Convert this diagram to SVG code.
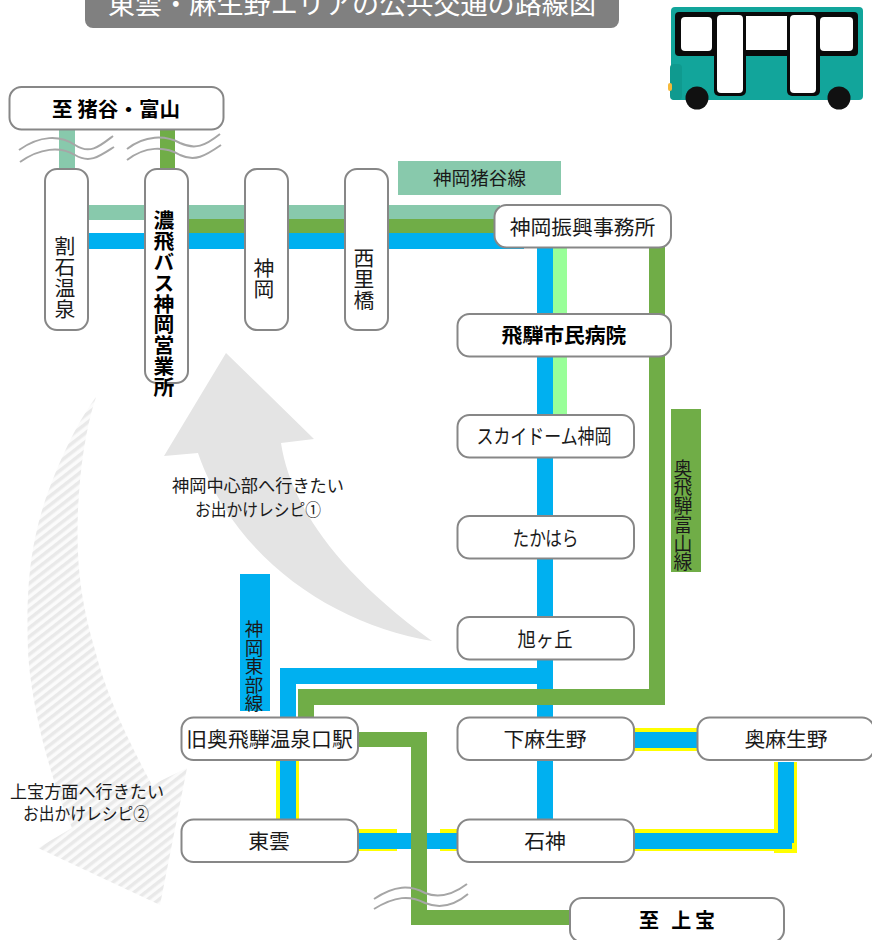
<svg xmlns="http://www.w3.org/2000/svg" width="872" height="940" viewBox="0 0 872 940">
<style>
text{font-family:"Noto Sans CJK JP","Noto Sans",sans-serif;fill:#1a1a1a;font-size:20.8px;text-anchor:middle}
.n{fill:#fff;stroke:#878787;stroke-width:2}
.b{font-weight:700;fill:#000}
.v{writing-mode:vertical-rl;text-anchor:start;dominant-baseline:central}
.s{font-size:17.6px}
.w{fill:none;stroke:#a6a6a6;stroke-width:2}
.lb{fill:#00B0F0}.lg{fill:#70AD47}.lm{fill:#88C9AC}.ly{fill:#FFFF00}.lp{fill:#99FF99}
</style>
<defs>
<pattern id="hatch" width="7" height="7" patternUnits="userSpaceOnUse" patternTransform="rotate(-38)">
<rect width="7" height="7" fill="#fbfbfb"/><rect width="7" height="3.5" fill="#e9e9e9"/>
</pattern>
</defs>
<g id="title">
<path d="M85 -5H619V20a8 8 0 0 1-8 8H93a8 8 0 0 1-8-8Z" fill="#808080"/>
<text x="352" y="14" style="font-size:27px;fill:#fff" textLength="488" lengthAdjust="spacingAndGlyphs">東雲・麻生野エリアの公共交通の路線図</text>
</g>
<g id="bus">
<rect x="671" y="7" width="192" height="93" rx="4" fill="#12A59B"/>
<rect x="670" y="64" width="12" height="36" rx="4" fill="#0F9A8F"/>
<rect x="668" y="83" width="4" height="8" rx="2" fill="#F5B93A"/>
<rect x="675" y="12" width="183" height="44" rx="4" fill="#0a0a0a"/>
<rect x="714" y="12" width="32" height="84" rx="5" fill="#0a0a0a"/>
<rect x="787" y="12" width="33" height="84" rx="5" fill="#0a0a0a"/>
<rect x="681" y="17" width="31" height="34" rx="4" fill="#fff"/>
<rect x="746" y="16" width="41" height="34" fill="#fff"/>
<rect x="820" y="17" width="33" height="34" rx="4" fill="#fff"/>
<rect x="717" y="15" width="26" height="78" rx="4" fill="#fff"/>
<rect x="790" y="15" width="26" height="78" rx="4" fill="#fff"/>
<circle cx="697" cy="98" r="11.5" fill="#111"/>
<circle cx="839" cy="98" r="11.5" fill="#111"/>
</g>
<g id="arrows">
<path d="M226 353L314 439L281 443C288 490 320 560 432 641C335 625 235 560 198 453L164 456Z" fill="#e4e4e4"/>
<path d="M96 397C75 425 55 470 43 507C30 550 26 590 28 650C30 700 50 780 72 828L38 848L160 905L187 768L152 785C125 735 105 690 95 650C80 600 76 560 78 510C80 470 85 430 96 397Z" fill="url(#hatch)"/>
</g>
<g id="connectors">
<rect class="lm" x="59" y="129" width="16" height="41"/>
<rect class="lg" x="160" y="129" width="15" height="41"/>
<rect class="lm" x="88" y="205" width="412" height="15"/>
<rect class="lg" x="188" y="219" width="312" height="14"/>
<rect class="lb" x="88" y="233" width="436" height="16"/>
<rect class="lb" x="537" y="247" width="16" height="572"/>
<rect class="lp" x="553" y="247" width="14" height="168"/>
<path class="lb" d="M280 668H553V684H296V819H280Z"/>
<path class="ly" d="M276 760H280V819H276ZM296 760H299V819H296Z"/>
<path class="lg" d="M649 247H665V705H314V717H298V689H649Z"/>
<path class="ly" d="M358 829H397V851H358ZM440 829H457V851H440Z"/>
<rect class="lb" x="358" y="833" width="99" height="16"/>
<rect class="ly" x="634" y="728" width="63" height="23"/>
<rect class="lb" x="634" y="732" width="63" height="16"/>
<path class="ly" d="M634 829H774V762H797V853H774V851H634Z"/>
<path class="lb" d="M634 833H778V762H794V843H792V849H634Z"/>
<path class="lg" d="M358 732H427V910H570V925H411V747H358Z"/>
<rect class="lm" x="398" y="161" width="163" height="34"/>
<rect class="lg" x="671" y="409" width="30" height="163"/>
<rect class="lb" x="240" y="574" width="30" height="137"/>
<path class="w" d="M19 150C40 135 60 135 75 145C90 155 100 146 113 136M20 162C40 148 60 146 75 155C90 164 100 156 114 147"/>
<path class="w" d="M127 149C145 135 165 135 180 143C195 150 205 146 220 134M127 160C145 146 165 146 180 155C195 162 205 156 221 145"/>
<path class="w" d="M374 899C395 885 410 885 425 893C440 899 455 893 467 884M374 909C395 896 410 895 425 903C440 909 455 905 468 894"/>
</g>
<text x="479.500" y="185" style="font-size:18.6px">神岡猪谷線</text>
<text class="v" x="683" y="459" style="font-size:18.8px">奥飛騨富山線</text>
<text class="v" x="254" y="620" style="font-size:18.5px">神岡東部線</text>
<g id="n-inotani"><rect class="n" x="9.5" y="87" width="214" height="42.5" rx="12"/><text class="b" x="116" y="117" style="font-size:20px" textLength="128" lengthAdjust="spacingAndGlyphs">至  猪谷・富山</text></g>
<g id="n-warishi"><rect class="n" x="45" y="169" width="43" height="161" rx="12"/><text class="v" x="65" y="236">割石温泉</text></g>
<g id="n-nohi"><rect class="n" x="145" y="169" width="43" height="214" rx="12"/><text class="v b" x="164" y="210">濃飛バス神岡営業所</text></g>
<g id="n-kamioka"><rect class="n" x="245" y="169" width="43" height="161" rx="12"/><text class="v" x="264" y="258">神岡</text></g>
<g id="n-nishizato"><rect class="n" x="345" y="169" width="43" height="161" rx="12"/><text class="v" x="364" y="248">西里橋</text></g>
<g id="n-shinko"><rect class="n" x="494.500" y="205" width="176.500" height="42.500" rx="12"/><text x="582.500" y="235">神岡振興事務所</text></g>
<g id="n-byoin"><rect class="n" x="457.500" y="314" width="213.500" height="42.500" rx="12"/><text class="b" x="564" y="343">飛騨市民病院</text></g>
<g id="n-sky"><rect class="n" x="457.500" y="415" width="176.500" height="42.500" rx="12"/><text x="544" y="444" textLength="135" lengthAdjust="spacingAndGlyphs">スカイドーム神岡</text></g>
<g id="n-takahara"><rect class="n" x="457.500" y="516" width="176.500" height="42.500" rx="12"/><text x="545.500" y="546" textLength="66" lengthAdjust="spacingAndGlyphs">たかはら</text></g>
<g id="n-asahi"><rect class="n" x="457.500" y="617" width="176.500" height="42.500" rx="12"/><text x="545" y="647" textLength="55" lengthAdjust="spacingAndGlyphs">旭ヶ丘</text></g>
<g id="n-shimo"><rect class="n" x="457.500" y="717.500" width="176.500" height="42.500" rx="12"/><text x="545" y="747">下麻生野</text></g>
<g id="n-oku"><rect class="n" x="697.500" y="717.500" width="176.500" height="42.500" rx="12"/><text x="786" y="747">奥麻生野</text></g>
<g id="n-ishigami"><rect class="n" x="457.500" y="819.500" width="176.500" height="42.500" rx="12"/><text x="545" y="849">石神</text></g>
<g id="n-kyuoku"><rect class="n" x="181.500" y="717.500" width="176.500" height="42.500" rx="12"/><text x="269.500" y="747">旧奥飛騨温泉口駅</text></g>
<g id="n-shinonome"><rect class="n" x="181.500" y="819.500" width="176.500" height="42.500" rx="12"/><text x="269" y="849">東雲</text></g>
<g id="n-kamitakara"><rect class="n" x="570" y="898" width="214" height="44" rx="12"/><text class="b" x="677" y="928" style="font-size:20px" textLength="76" lengthAdjust="spacing">至  上宝</text></g>
<g id="recipes">
<text class="s" x="258" y="492" textLength="172" lengthAdjust="spacingAndGlyphs">神岡中心部へ行きたい</text>
<text class="s" x="258" y="516" textLength="126" lengthAdjust="spacingAndGlyphs">お出かけレシピ①</text>
<text class="s" x="87" y="798" textLength="154" lengthAdjust="spacingAndGlyphs">上宝方面へ行きたい</text>
<text class="s" x="86" y="820" textLength="126" lengthAdjust="spacingAndGlyphs">お出かけレシピ②</text>
</g>
</svg>
